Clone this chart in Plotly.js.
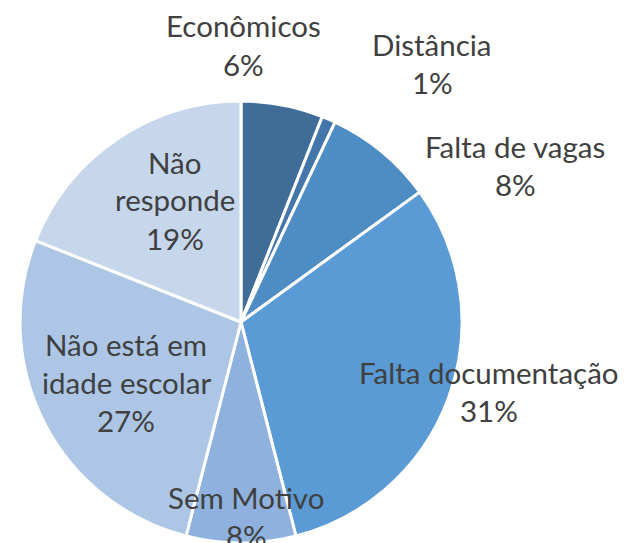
<!DOCTYPE html>
<html>
<head>
<meta charset="utf-8">
<script src="https://cdn.plot.ly/plotly-3.0.1.min.js"></script>
<style>html,body{margin:0;padding:0;background:#fff;}#chart{width:642px;height:543px;}</style>
</head>
<body>
<div id="chart"></div>
<script>
const categories = ["Econômicos", "Distância", "Falta de vagas", "Falta documentação", "Sem Motivo", "Não está em idade escolar", "Não responde"];
const labelLines = [["Econômicos"], ["Distância"], ["Falta de vagas"], ["Falta documentação"], ["Sem Motivo"], ["Não está em", "idade escolar"], ["Não", "responde"]];
const values = [6, 1, 8, 31, 8, 27, 19];
const colors = ["#3f6d98", "#4476aa", "#4e8cc4", "#5b9bd5", "#8eb1dd", "#adc6e6", "#c6d7ec"];

const W = 642, H = 543;
// label first-line centre positions in pixels, and line step
const labelPos = [[243, 26], [432, 44], [515, 146], [489, 372], [246, 497], [126, 344], [175, 162]];
const lineStep = 38;

const total = values.reduce((a, b) => a + b, 0);
const annotations = [];
categories.forEach((c, i) => {
  const pct = Math.round(values[i] / total * 100) + "%";
  labelLines[i].concat([pct]).forEach((line, k) => {
    annotations.push({
      text: line,
      x: labelPos[i][0] / W, y: 1 - (labelPos[i][1] + k * lineStep) / H,
      xref: "paper", yref: "paper", xanchor: "center", yanchor: "middle",
      showarrow: false, align: "center",
      font: {family: "Lato, sans-serif", size: 29.5, color: "#404040"}
    });
  });
});

const trace = {
  type: "pie",
  labels: categories,
  values: values,
  sort: false,
  direction: "clockwise",
  rotation: 0,
  textinfo: "none",
  hoverinfo: "none",
  marker: {colors: colors, line: {color: "#ffffff", width: 3}},
  domain: {x: [20 / W, 462 / W], y: [0 / H, 442 / H]}
};

Plotly.newPlot("chart", [trace], {
  width: W, height: H,
  margin: {l: 0, r: 0, t: 0, b: 0},
  showlegend: false,
  paper_bgcolor: "#ffffff",
  annotations: annotations
}, {displayModeBar: false, staticPlot: true});
</script>
</body>
</html>
